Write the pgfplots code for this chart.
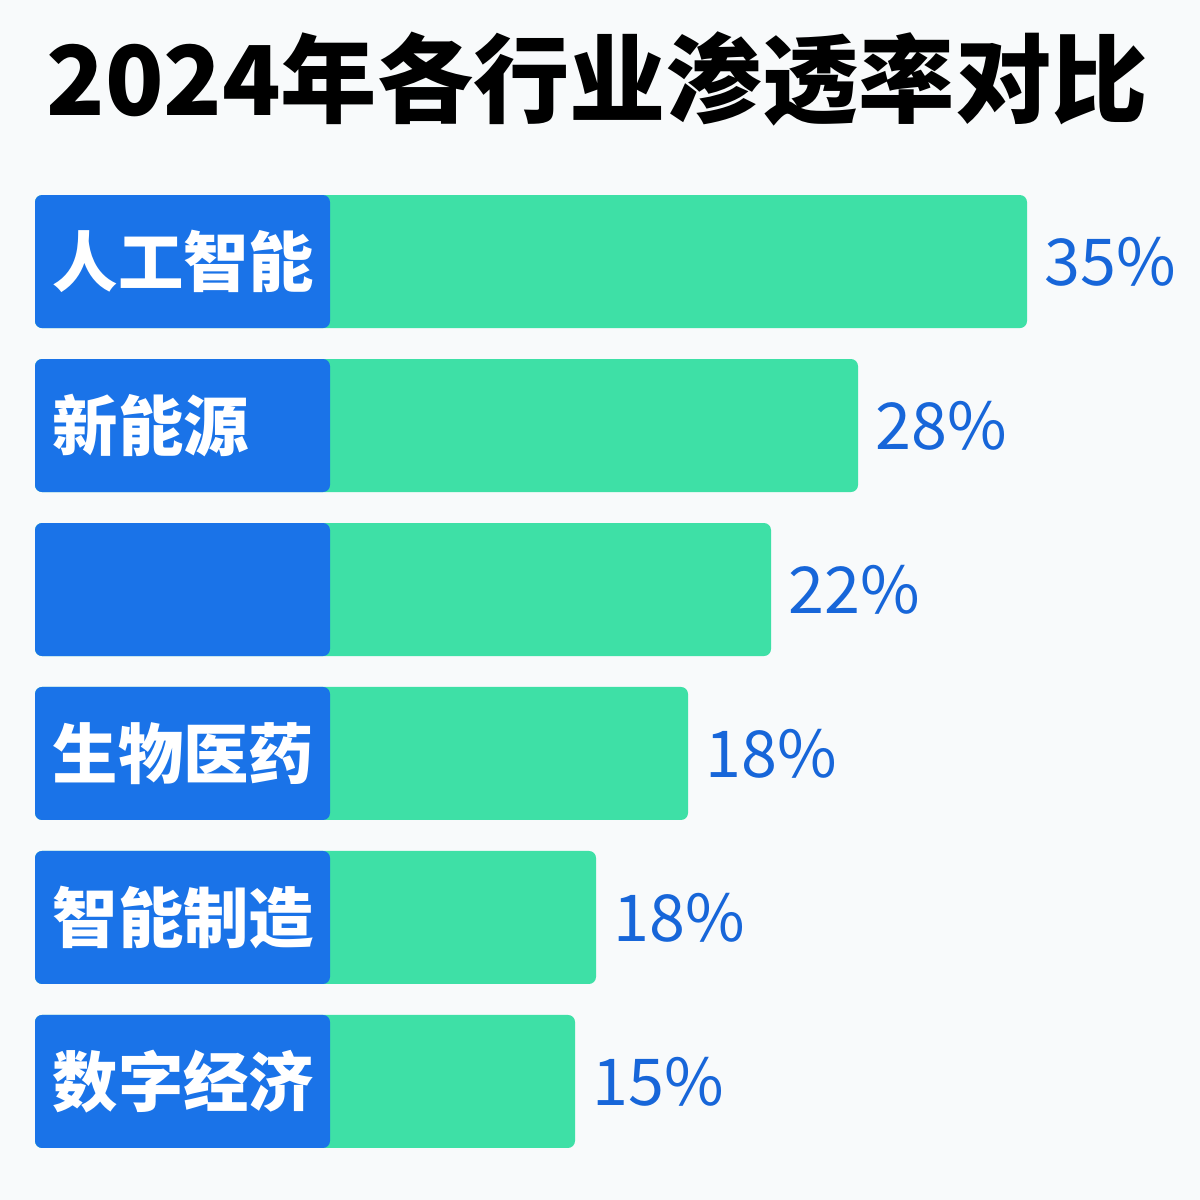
\documentclass[border=0pt]{standalone}
\usepackage{pgfplots}
\pgfplotsset{compat=1.18}
\usepackage{fontspec}
\setmainfont{Noto Sans CJK SC}
\definecolor{bgcol}{HTML}{F8FAFB}
\definecolor{barblue}{HTML}{1A73E8}
\definecolor{bargreen}{HTML}{3EE0A6}
\definecolor{valblue}{HTML}{1766D9}
\begin{document}
\begin{tikzpicture}
\fill[bgcol] (0,0) rectangle (12cm,12cm);
\begin{axis}[at={(0,0)}, anchor=south west, scale only axis,
  width=12cm, height=12cm,
  xmin=-35, xmax=1165, ymin=-1.595, ymax=5.723, y dir=reverse,
  hide axis, xbar, bar width=1.33cm, bar shift=0pt, clip=false]
\addplot[fill=bargreen, draw=none, rounded corners=0.07cm,
  nodes near coords, point meta=explicit symbolic,
  nodes near coords style={anchor=west, xshift=0.17cm, text=valblue,
    font=\fontsize{18.4}{18.4}\selectfont, inner sep=0pt}]
  coordinates {(992,0)[35\%] (823,1)[28\%] (736,2)[22\%] (653,3)[18\%] (561,4)[18\%] (540,5)[15\%]};
\addplot[fill=barblue, draw=none, rounded corners=0.07cm,
  nodes near coords, point meta=explicit symbolic,
  nodes near coords style={anchor=west, xshift=-2.78cm, text=white,
    font=\fontsize{18.6}{18.6}\bfseries\selectfont, inner sep=0pt}]
  coordinates {(295,0)[人工智能] (295,1)[新能源] (295,2)[{}] (295,3)[生物医药] (295,4)[智能制造] (295,5)[数字经济]};
\end{axis}
\node[anchor=base, inner sep=0pt, font=\fontsize{27.4}{27.4}\bfseries\selectfont] at (5.97cm,10.84cm) {2024年各行业渗透率对比};
\end{tikzpicture}
\end{document}
